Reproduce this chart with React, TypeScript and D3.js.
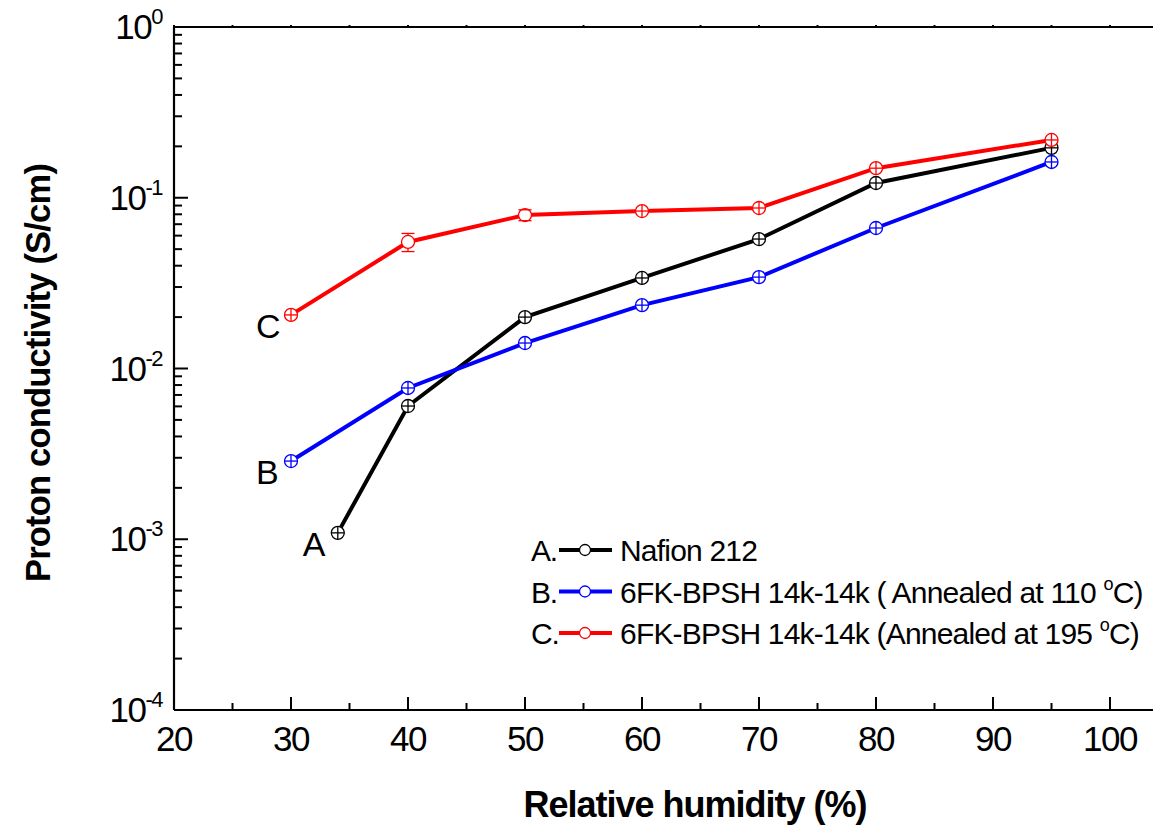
import React from "react";
import * as d3 from "d3";

// relative humidity (%) for each series
const rhNafion = [34, 40, 50, 60, 70, 80, 95];
const rhBPSH = [30, 40, 50, 60, 70, 80, 95];

// proton conductivity (S/cm)
const nafion212 = [0.00109, 0.00603, 0.02, 0.0339, 0.0573, 0.122, 0.196];
const annealed110 = [0.00287, 0.00769, 0.0141, 0.0235, 0.0343, 0.0665, 0.162];
const annealed195 = [0.0206, 0.0551, 0.0792, 0.0836, 0.0871, 0.149, 0.218];
const err195 = [0, 0.0067, 0.0058, 0, 0, 0, 0];

const xTicks = [20, 30, 40, 50, 60, 70, 80, 90, 100];
const yExponents = [0, -1, -2, -3, -4];

const series = [
  { tag: "A", name: "Nafion 212", color: "#000000", x: rhNafion, y: nafion212, err: null as number[] | null },
  { tag: "B", name: "6FK-BPSH 14k-14k ( Annealed at 110 ", color: "#0000ff", x: rhBPSH, y: annealed110, err: null as number[] | null },
  { tag: "C", name: "6FK-BPSH 14k-14k (Annealed at 195 ", color: "#ff0000", x: rhBPSH, y: annealed195, err: err195 },
];

const W = 1153;
const H = 827;
const font = "'Liberation Sans', Arial, sans-serif";

export default function App() {
  const left = 174, right = 1110, top = 27, bottom = 710;
  const x = d3.scaleLinear().domain([20, 100]).range([left, right]);
  const y = d3.scaleLog().domain([1e-4, 1]).range([bottom, top]);
  const line = d3.line<[number, number]>().x(d => x(d[0])).y(d => y(d[1]));

  const minorX = d3.range(25, 101, 10);
  const logTicks = y.ticks();
  const r = 6.5;

  return (
    <svg width={W} height={H} style={{ position: "absolute", left: 0, top: 0, background: "#fff" }} fontFamily={font}>
      {/* frame */}
      <line x1={left} x2={W} y1={bottom} y2={bottom} stroke="#000" strokeWidth={2.2} />
      <line x1={left} x2={W} y1={top} y2={top} stroke="#000" strokeWidth={2.2} />
      <line x1={left} x2={left} y1={top} y2={bottom} stroke="#000" strokeWidth={2.2} />

      {/* x ticks */}
      {xTicks.map(t => (
        <g key={"xt" + t}>
          <line x1={x(t)} x2={x(t)} y1={bottom} y2={bottom - 13} stroke="#000" strokeWidth={2} />
          <line x1={x(t)} x2={x(t)} y1={top} y2={top - 2} stroke="#000" strokeWidth={2} />
          <text x={x(t)} y={751} fontSize={35} textAnchor="middle" letterSpacing={-1.5}>{t}</text>
        </g>
      ))}
      {minorX.map(t => (
        <g key={"xm" + t}>
          <line x1={x(t)} x2={x(t)} y1={bottom} y2={bottom - 7} stroke="#000" strokeWidth={2} />
          <line x1={x(t)} x2={x(t)} y1={top} y2={top - 2} stroke="#000" strokeWidth={2} />
        </g>
      ))}

      {/* y ticks */}
      {logTicks.map((t, i) => {
        const major = Math.abs(Math.log10(t) - Math.round(Math.log10(t))) < 1e-9;
        return (
          <line key={"yt" + i} x1={left} x2={left + (major ? 14 : 8)} y1={y(t)} y2={y(t)} stroke="#000" strokeWidth={2} />
        );
      })}
      {yExponents.map(e => (
        <text key={"yl" + e} x={162} y={y(Math.pow(10, e)) + 12} fontSize={35} textAnchor="end" letterSpacing={-1.5}>
          10<tspan fontSize={22} dy={-15}>{e}</tspan>
        </text>
      ))}

      {/* axis titles */}
      <text x={695} y={817} fontSize={36} fontWeight="bold" textAnchor="middle" letterSpacing={-1}>
        Relative humidity (%)
      </text>
      <text transform={`translate(50,373) rotate(-90)`} fontSize={34.5} fontWeight="bold" textAnchor="middle" letterSpacing={-0.8}>
        Proton conductivity (S/cm)
      </text>

      {/* series */}
      {series.map(s => {
        const pts = s.x.map((v, i) => [v, s.y[i]] as [number, number]);
        return (
          <g key={s.tag}>
            <path d={line(pts) || ""} fill="none" stroke={s.color} strokeWidth={4} />
            {pts.map((p, i) => {
              const cx = x(p[0]), cy = y(p[1]);
              const e = s.err ? s.err[i] : 0;
              if (e > 0) {
                const y1 = y(p[1] + e), y2 = y(p[1] - e);
                return (
                  <g key={i} stroke={s.color} strokeWidth={1.3}>
                    <circle cx={cx} cy={cy} r={r} fill="#fff" />
                    <line x1={cx} x2={cx} y1={y1} y2={cy - r} />
                    <line x1={cx} x2={cx} y1={cy + r} y2={y2} />
                    <line x1={cx - r} x2={cx + r} y1={y1} y2={y1} />
                    <line x1={cx - r} x2={cx + r} y1={y2} y2={y2} />
                  </g>
                );
              }
              return (
                <g key={i} stroke={s.color} strokeWidth={1.3}>
                  <circle cx={cx} cy={cy} r={r} fill="#fff" />
                  <line x1={cx - r} x2={cx + r} y1={cy} y2={cy} />
                  <line x1={cx} x2={cx} y1={cy - r} y2={cy + r} />
                </g>
              );
            })}
            <text x={x(s.x[0]) - 35} y={y(s.y[0]) + 23} fontSize={34} textAnchor="start">{s.tag}</text>
          </g>
        );
      })}

      {/* legend */}
      {series.map((s, i) => {
        const ly = 550 + i * 41.5;
        return (
          <g key={"lg" + s.tag}>
            <text x={531} y={ly + 11} fontSize={30} letterSpacing={-1.2}>{s.tag}.</text>
            <line x1={559} x2={612} y1={ly} y2={ly} stroke={s.color} strokeWidth={4} />
            <circle cx={585} cy={ly} r={5.5} fill="#fff" stroke={s.color} strokeWidth={1.3} />
            <text x={620} y={ly + 11} fontSize={30} letterSpacing={-0.8}>
              {s.name}
              {i > 0 && (
                <>
                  <tspan fontSize={18} dy={-13}>o</tspan>
                  <tspan dy={13}>C)</tspan>
                </>
              )}
            </text>
          </g>
        );
      })}
    </svg>
  );
}
